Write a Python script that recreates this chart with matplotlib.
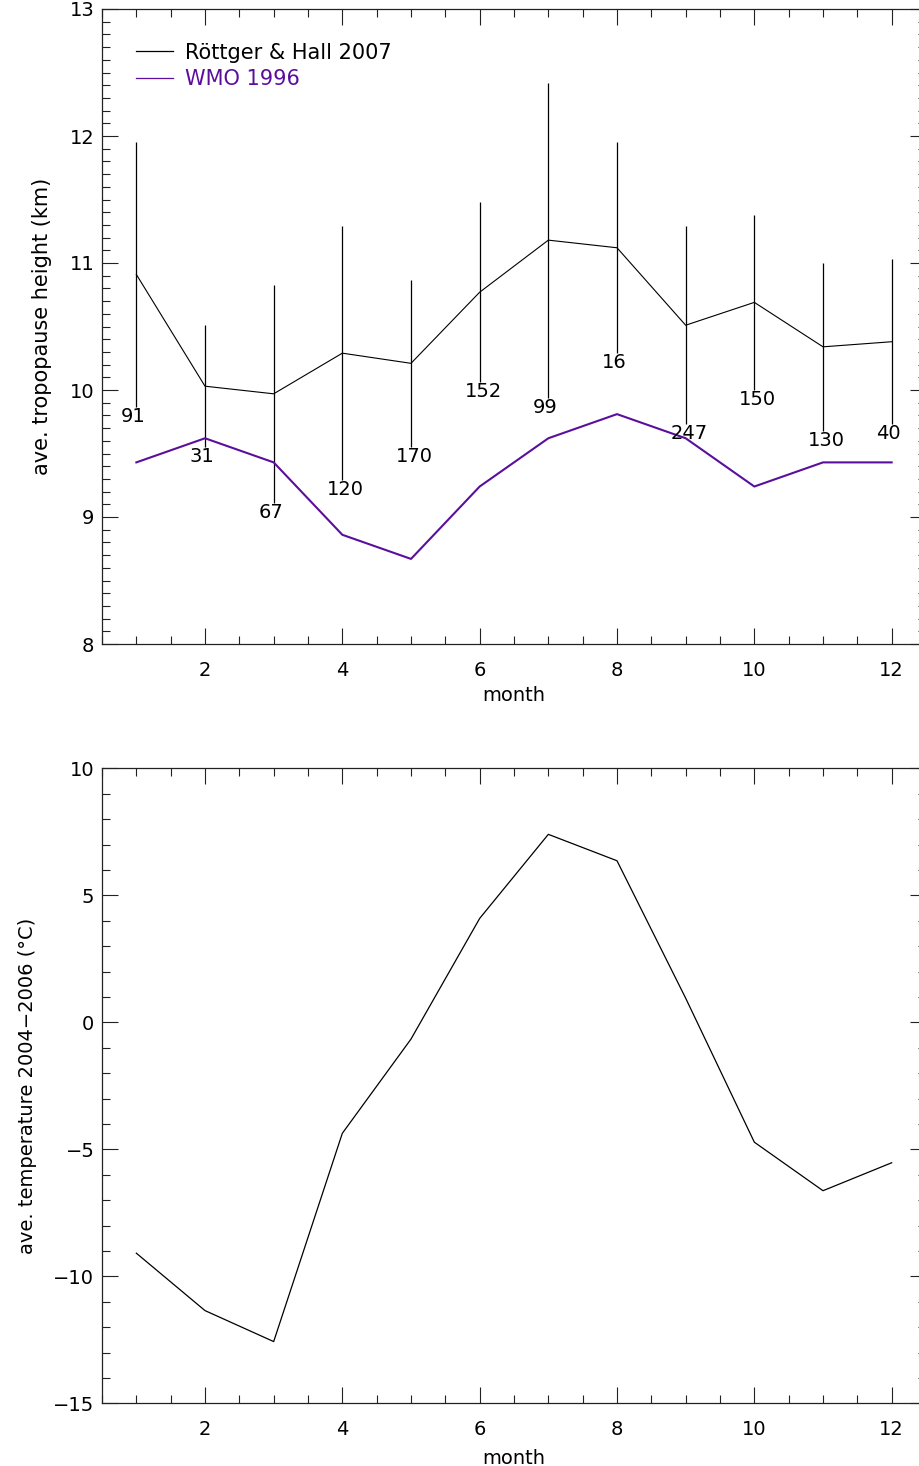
import numpy as np
import matplotlib
matplotlib.use('Agg')
import matplotlib.pyplot as plt
from matplotlib.ticker import MultipleLocator

# monthly data
months = np.arange(1, 13)
rh2007_height = [10.91, 10.03, 9.97, 10.29, 10.21, 10.77, 11.18, 11.12, 10.51, 10.69, 10.34, 10.38]
rh2007_sigma = [1.04, 0.48, 0.86, 1.00, 0.66, 0.71, 1.24, 0.83, 0.78, 0.69, 0.66, 0.65]
rh2007_counts = ['91', '31', '67', '120', '170', '152', '99', '16', '247', '150', '130', '40']
wmo1996_height = [9.43, 9.62, 9.43, 8.86, 8.67, 9.24, 9.62, 9.81, 9.62, 9.24, 9.43, 9.43]
ave_temperature = [-9.09, -11.35, -12.57, -4.37, -0.66, 4.09, 7.40, 6.36, 0.95, -4.72, -6.63, -5.53]

purple = '#5a0f9c'
fs = 14

plt.rcParams['font.family'] = 'DejaVu Sans'
plt.rcParams['axes.unicode_minus'] = True

fig = plt.figure(figsize=(9.19, 14.66), dpi=100)
W, H = 919.0, 1466.0
ax1 = fig.add_axes([102 / W, 1 - 644 / H, 824 / W, 635 / H])
ax2 = fig.add_axes([102 / W, 1 - 1403.3 / H, 824 / W, 635 / H])


def style_axis(ax, ymaj, ymin):
    ax.set_xlim(0.5, 12.5)
    ax.xaxis.set_major_locator(MultipleLocator(2))
    ax.xaxis.set_minor_locator(MultipleLocator(0.5))
    ax.yaxis.set_major_locator(MultipleLocator(ymaj))
    ax.yaxis.set_minor_locator(MultipleLocator(ymin))
    ax.tick_params(which='both', direction='in', top=True, right=True, width=0.8, color='#222222')
    ax.tick_params(which='major', length=11.5)
    ax.tick_params(which='minor', length=5.8)
    ax.tick_params(axis='x', which='major', pad=12, labelsize=fs)
    ax.tick_params(axis='y', which='major', pad=5.5, labelsize=fs)
    for sp in ax.spines.values():
        sp.set_linewidth(0.9)
        sp.set_color('#222222')


# top panel: tropopause height
eb = ax1.errorbar(months, rh2007_height, yerr=rh2007_sigma, fmt='-', color='black',
                  lw=0.8, elinewidth=0.9, capsize=0)
wmo_line, = ax1.plot(months, wmo1996_height, color=purple, lw=1.5)
for m, h, s, c in zip(months, rh2007_height, rh2007_sigma, rh2007_counts):
    ax1.text(m - 0.22, h - s, c, ha='left', va='top', fontsize=fs)
ax1.set_ylim(8, 13)
style_axis(ax1, 1, 0.1)
ax1.set_xlabel('month', fontsize=fs)
ax1.set_ylabel('ave. tropopause height (km)', fontsize=15)
ax1.xaxis.set_label_coords(0.5, -0.066)
ax1.yaxis.set_label_coords(-0.061, 0.5)
leg = ax1.legend([eb.lines[0], wmo_line], ['Röttger & Hall 2007', 'WMO 1996'],
                 loc='upper left', bbox_to_anchor=(0.041, 0.947), frameon=False,
                 fontsize=15, handlelength=1.8, handletextpad=0.55, labelspacing=0.3,
                 borderpad=0, borderaxespad=0, labelcolor='linecolor')
for line in leg.get_lines():
    line.set_linewidth(0.9)

# bottom panel: temperature
ax2.plot(months, ave_temperature, color='black', lw=0.9)
ax2.set_ylim(-15, 10)
style_axis(ax2, 5, 1)
ax2.set_xlabel('month', fontsize=fs)
ax2.set_ylabel('ave. temperature 2004\u22122006 (°C)', fontsize=fs)
ax2.xaxis.set_label_coords(0.5, -0.072)
ax2.yaxis.set_label_coords(-0.079, 0.5)

fig.savefig('out.png', dpi=100)
